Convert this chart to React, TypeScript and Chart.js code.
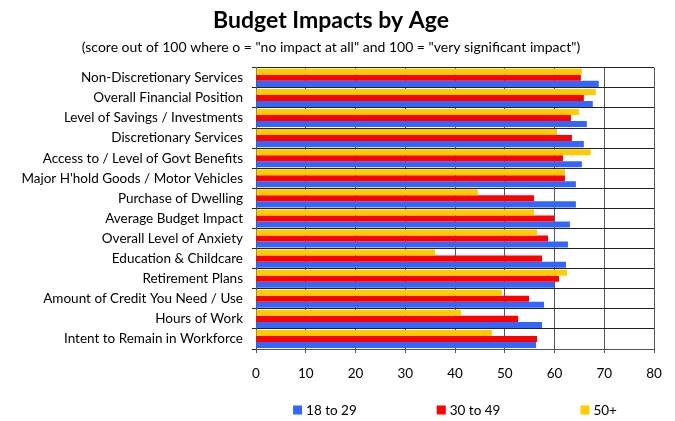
import React, { useEffect, useRef } from "react";
import { Chart, registerables } from "chart.js";

Chart.register(...registerables);

const categories = [
  "Non-Discretionary Services",
  "Overall Financial Position",
  "Level of Savings / Investments",
  "Discretionary Services",
  "Access to / Level of Govt Benefits",
  "Major H'hold Goods / Motor Vehicles",
  "Purchase of Dwelling",
  "Average Budget Impact",
  "Overall Level of Anxiety",
  "Education & Childcare",
  "Retirement Plans",
  "Amount of Credit You Need / Use",
  "Hours of Work",
  "Intent to Remain in Workforce",
];

const age18to29 = [68.9, 67.7, 66.5, 65.9, 65.5, 64.3, 64.3, 63.1, 62.7, 62.3, 59.9, 57.9, 57.5, 56.3];
const age30to49 = [65.3, 65.9, 63.3, 63.5, 61.7, 62.1, 55.9, 59.9, 58.7, 57.5, 60.9, 54.9, 52.7, 56.5];
const age50plus = [65.5, 68.3, 64.9, 60.5, 67.3, 62.1, 44.6, 55.9, 56.5, 36.0, 62.5, 49.4, 41.2, 47.4];

const xMin = 0;
const xMax = 80;
const xStep = 10;

const seriesNames = ["18 to 29", "30 to 49", "50+"];
const seriesColors = ["#3366FF", "#FF0000", "#FFCC00"];

const FONT = "Lato, 'Open Sans', sans-serif";

const legendPlugin = {
  id: "customLegend",
  afterDraw(chart: any) {
    const ctx = chart.ctx;
    const area = chart.chartArea;
    ctx.save();
    ctx.font = `13.5px ${FONT}`;
    const box = 9;
    const gapText = 4;
    const gapItem = 80;
    const widths = seriesNames.map((n) => box + gapText + ctx.measureText(n).width);
    const total = widths.reduce((a, b) => a + b, 0) + gapItem * (widths.length - 1);
    let x = (area.left + area.right) / 2 - total / 2;
    const yc = 402;
    seriesNames.forEach((n, i) => {
      ctx.fillStyle = seriesColors[i];
      ctx.fillRect(x, yc - box / 2, box, box);
      ctx.fillStyle = "#000";
      ctx.textBaseline = "middle";
      ctx.textAlign = "left";
      ctx.fillText(n, x + box + gapText, yc + 0.5);
      x += widths[i] + gapItem;
    });
    ctx.restore();
  },
};

export default function App() {
  const ref = useRef<HTMLCanvasElement | null>(null);

  useEffect(() => {
    if (!ref.current) return;
    const chart = new Chart(ref.current, {
      type: "bar",
      data: {
        labels: categories,
        datasets: [
          { label: seriesNames[2], data: age50plus, backgroundColor: seriesColors[2] },
          { label: seriesNames[1], data: age30to49, backgroundColor: seriesColors[1] },
          { label: seriesNames[0], data: age18to29, backgroundColor: seriesColors[0] },
        ],
      },
      options: {
        indexAxis: "y",
        animation: false,
        responsive: false,
        maintainAspectRatio: false,
        datasets: {
          bar: { categoryPercentage: 0.9, barPercentage: 1.0, borderWidth: 0 },
        },
        layout: { padding: { left: 0, right: 13, top: 1, bottom: 42 } },
        plugins: {
          legend: { display: false },
          tooltip: { enabled: false },
          title: {
            display: true,
            text: "Budget Impacts by Age",
            color: "#000",
            font: { family: FONT, size: 23, weight: "bold", lineHeight: 1.0 },
            padding: { top: 0, bottom: 4 },
          },
          subtitle: {
            display: true,
            text: '(score out of 100 where o = "no impact at all" and 100 = "very significant impact")',
            color: "#000",
            font: { family: FONT, size: 14, lineHeight: 1.2 },
            padding: { top: 3, bottom: 12 },
          },
        },
        scales: {
          x: {
            min: xMin,
            max: xMax,
            ticks: { stepSize: xStep, color: "#000", font: { family: FONT, size: 13.5 }, padding: 13 },
            grid: { color: "#555", lineWidth: 1, tickLength: 4, drawTicks: true },
            border: { color: "#555", width: 1 },
            afterFit(scale: any) {
              scale.height = 30;
              scale.paddingRight = 0;
              scale.paddingLeft = 0;
            },
          },
          y: {
            ticks: { color: "#000", font: { family: FONT, size: 13.5 }, padding: 9, autoSkip: false },
            grid: { color: "#222", lineWidth: 1, tickLength: 4, offset: true },
            border: { color: "#555", width: 1 },
            afterFit(scale: any) {
              scale.width = 248;
            },
          },
        },
      },
      plugins: [legendPlugin],
    });
    return () => chart.destroy();
  }, []);

  return (
    <div style={{ width: 659, height: 413 }}>
      <canvas ref={ref} width={659} height={413} style={{ display: "block" }} />
    </div>
  );
}
